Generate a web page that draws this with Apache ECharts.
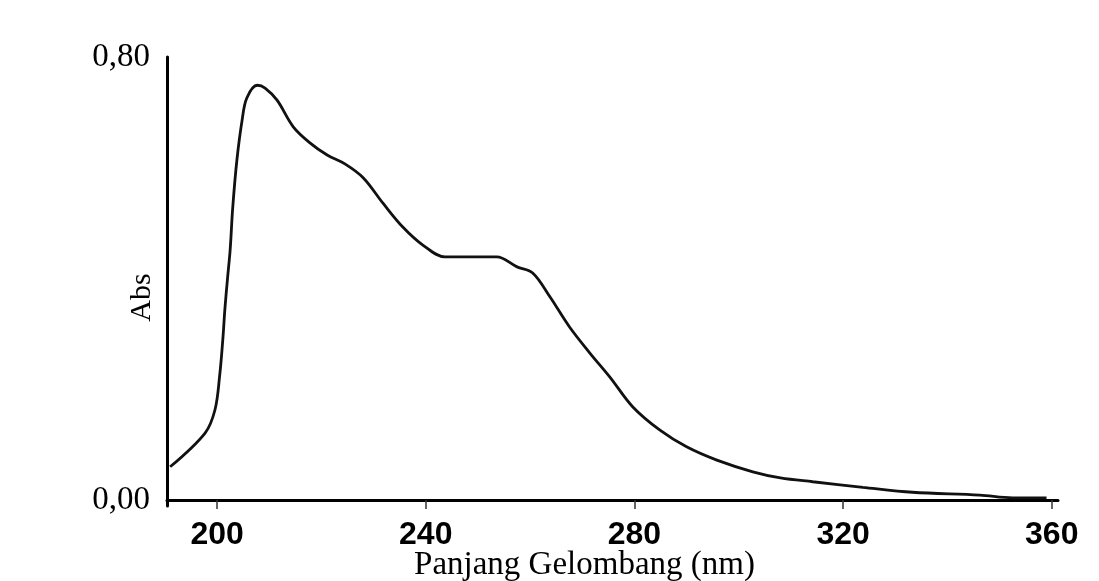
<!DOCTYPE html>
<html>
<head>
<meta charset="utf-8">
<script src="https://cdn.jsdelivr.net/npm/echarts@6/dist/echarts.min.js"></script>
<style>
  html, body { margin: 0; padding: 0; background: #fff; }
  #spectrum { width: 1099px; height: 581px; }
</style>
</head>
<body>
<div id="spectrum"></div>
<script>
var wavelength = [191.0, 197.7, 199.6, 200.5, 201.1, 201.5, 202.0, 202.5, 203.0, 203.8, 204.8, 205.7,
  207.7, 209.2, 211.5, 214.6, 217.8, 221.1, 224.5, 228.0, 231.8, 235.6, 239.5, 243.7,
  253.6, 257.5, 260.5, 263.8, 267.6, 271.5, 275.3, 279.7, 284.9, 290.0, 295.8, 302.7,
  308.0, 314.2, 323.8, 333.3, 346.2, 352.5, 359.0];
var absorbance = [0.060, 0.121, 0.163, 0.225, 0.290, 0.345, 0.400, 0.451, 0.528, 0.614, 0.686, 0.726,
  0.749, 0.744, 0.722, 0.674, 0.645, 0.623, 0.607, 0.582, 0.536, 0.493, 0.460, 0.439,
  0.439, 0.421, 0.410, 0.367, 0.312, 0.265, 0.222, 0.168, 0.126, 0.096, 0.072, 0.051,
  0.040, 0.033, 0.023, 0.014, 0.009, 0.004, 0.004];
var xTicks = [200, 240, 280, 320, 360];
var yTicks = [0, 0.8];

var points = wavelength.map(function (w, i) { return [w, absorbance[i]]; });

var myChart = echarts.init(document.getElementById('spectrum'));
var option = {
  backgroundColor: '#fff',
  animation: false,
  grid: { left: 167, right: 41, top: 57, bottom: 75, outerBoundsMode: 'none', containLabel: false },
  xAxis: {
    type: 'value',
    min: 190.4,
    max: 361.2,
    name: 'Panjang Gelombang (nm)',
    nameLocation: 'middle',
    nameGap: 43,
    nameMoveOverlap: false,
    nameTextStyle: {
      fontFamily: 'Liberation Serif',
      fontSize: 33,
      color: '#000',
      padding: [0, 56, 0, 0]
    },
    axisLine: { lineStyle: { color: '#000', width: 3 } },
    axisTick: { show: true, length: 9, customValues: xTicks, lineStyle: { color: '#333', width: 1.5 } },
    axisLabel: {
      customValues: xTicks,
      margin: 13,
      fontFamily: 'Liberation Sans',
      fontWeight: 'bold',
      fontSize: 32,
      color: '#000'
    },
    splitLine: { show: false }
  },
  yAxis: {
    type: 'value',
    min: -0.0108,
    max: 0.8,
    name: 'Abs',
    nameLocation: 'middle',
    nameGap: 10,
    nameMoveOverlap: false,
    nameTextStyle: {
      fontFamily: 'Liberation Serif',
      fontSize: 30,
      color: '#000',
      padding: [0, 32, 0, 0]
    },
    axisLine: { show: true, lineStyle: { color: '#000', width: 3 } },
    axisTick: { show: false },
    axisLabel: {
      customValues: yTicks,
      margin: 17,
      fontFamily: 'Liberation Serif',
      fontSize: 33,
      color: '#000',
      formatter: function (v) { return v.toFixed(2).replace('.', ','); }
    },
    splitLine: { show: false }
  },
  series: [{
    type: 'line',
    data: points,
    showSymbol: false,
    smooth: 0.35,
    lineStyle: { color: '#111', width: 2.8 }
  }]
};
myChart.setOption(option);
</script>
</body>
</html>
